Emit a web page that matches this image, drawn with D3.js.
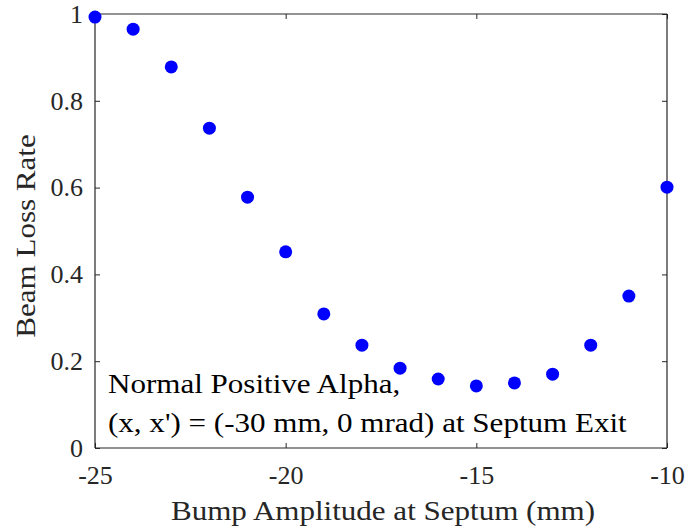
<!DOCTYPE html>
<html>
<head>
<meta charset="utf-8">
<script src="https://cdn.jsdelivr.net/npm/d3@7"></script>
<style>
  body { margin: 0; background: #fff; }
</style>
</head>
<body>
<div id="graph"></div>
<script>
// bump amplitude (mm) and measured loss rate
var bumpAmp = [-25, -24, -23, -22, -21, -20, -19, -18, -17, -16, -15, -14, -13, -12, -11, -10];
var lossRate = [0.993, 0.965, 0.878, 0.737, 0.578, 0.452, 0.309, 0.237, 0.184, 0.159, 0.143, 0.150, 0.170, 0.237, 0.350, 0.601];
var xTicks = [-25, -20, -15, -10];
var yTicks = [0, 0.2, 0.4, 0.6, 0.8, 1];
var noteLines = ["Normal Positive Alpha,", "(x, x') = (-30 mm, 0 mrad) at Septum Exit"];

(function() {
	var W = 688, H = 526;
	var box = { left: 95, top: 14, right: 667, bottom: 448 };
	var font = "'Liberation Serif', 'Times New Roman', serif";
	var ink = "#262626";
	var stretch = 1.15; // text in the source is drawn a bit wide

	var svg = d3.select("#graph").append("svg")
		.attr("width", W)
		.attr("height", H);

	var x = d3.scaleLinear().domain([-25, -10]).range([box.left, box.right]);
	var y = d3.scaleLinear().domain([0, 1]).range([box.bottom, box.top]);

	var fmtY = function(d) { return String(+d.toFixed(1)); };
	var fmtX = function(d) { return String(d); };

	// axes: labels outside bottom/left, inward ticks on all four sides
	var gx = svg.append("g")
		.attr("transform", "translate(0," + box.bottom + ")")
		.call(d3.axisBottom(x).tickValues(xTicks).tickSize(-5).tickFormat(fmtX));
	var gxt = svg.append("g")
		.attr("transform", "translate(0," + box.top + ")")
		.call(d3.axisTop(x).tickValues(xTicks).tickSize(-5).tickFormat(""));
	var gy = svg.append("g")
		.attr("transform", "translate(" + box.left + ",0)")
		.call(d3.axisLeft(y).tickValues(yTicks).tickSize(-5).tickPadding(12).tickFormat(fmtY));
	var gyr = svg.append("g")
		.attr("transform", "translate(" + box.right + ",0)")
		.call(d3.axisRight(y).tickValues(yTicks).tickSize(-5).tickFormat(""));

	[gx, gxt, gy, gyr].forEach(function(g) {
		g.attr("font-family", null).attr("font-size", null);
		g.selectAll("path").attr("stroke", ink).attr("stroke-width", 1.2);
		g.selectAll("line").attr("stroke", ink);
		g.selectAll("text")
			.style("font-family", font)
			.style("font-size", "26px")
			.attr("fill", ink);
	});
	// plain box edges, no end caps
	[gx, gxt].forEach(function(g) {
		g.select("path").attr("d", "M" + box.left + ",0H" + box.right);
	});
	[gy, gyr].forEach(function(g) {
		g.select("path").attr("d", "M0," + box.top + "V" + box.bottom);
	});
	gx.selectAll("text").attr("y", 36).attr("dy", 0);

	// axis titles
	svg.append("text")
		.attr("transform", "translate(383,520) scale(" + stretch + ",1)")
		.attr("text-anchor", "middle")
		.style("font-family", font)
		.style("font-size", "27px")
		.attr("fill", ink)
		.text("Bump Amplitude at Septum (mm)");

	svg.append("text")
		.attr("transform", "translate(35,236) rotate(-90) scale(" + stretch + ",1)")
		.attr("text-anchor", "middle")
		.style("font-family", font)
		.style("font-size", "27px")
		.attr("fill", ink)
		.text("Beam Loss Rate");

	// data points
	svg.selectAll("circle")
		.data(bumpAmp)
		.enter()
		.append("circle")
		.attr("cx", function(d) { return x(d); })
		.attr("cy", function(d, i) { return y(lossRate[i]); })
		.attr("r", 6.5)
		.attr("fill", "#0000ff");

	// annotation
	svg.selectAll("text.note")
		.data(noteLines)
		.enter()
		.append("text")
		.attr("class", "note")
		.attr("transform", function(d, i) {
			return "translate(108," + (393 + i * 39) + ") scale(" + stretch + ",1)";
		})
		.style("font-family", font)
		.style("font-size", "27px")
		.attr("fill", "#000")
		.text(function(d) { return d; });
})();
</script>
</body>
</html>
